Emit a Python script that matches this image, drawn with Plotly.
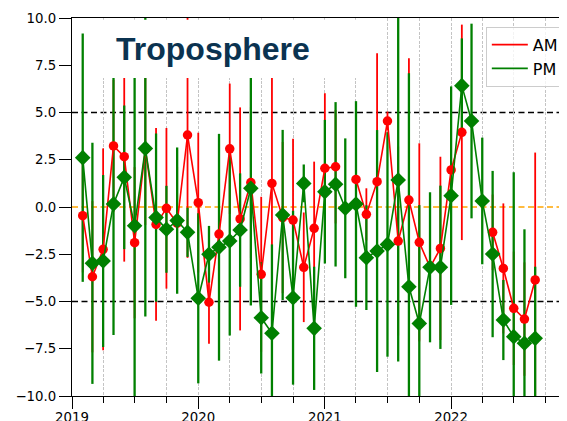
import pandas as pd
import plotly.graph_objects as go

dates = pd.date_range("2019-02-01", periods=44, freq="MS")

am_values = [-0.46, -3.69, -2.24, 3.23, 2.66, -1.89, 3.05, -0.92, -0.07, -0.86,
             3.81, 0.23, -5.04, -1.43, 3.08, -0.63, 1.29, -3.56, 1.25, -0.56,
             -0.69, -3.19, -1.13, 2.05, 2.13, None, 1.46, -0.39, 1.34, 4.55,
             -1.80, 0.37, -1.87, -3.19, -2.19, 1.96, 3.95, None, None, -1.34,
             -3.25, -5.36, -5.93, -3.86]
am_err = [3.0, 4.0, 5.34, 3.5, 5.55, 4.0, 4.0, 5.1, 4.25, 3.0,
          6.5, 3.7, 2.2, 4.0, 3.45, 5.9, 4.0, 4.1, 6.5, 4.0,
          4.3, 2.9, 3.53, 3.97, 3.0, None, 3.0, 1.38, 6.8, 0.5,
          5.0, 7.5, 5.24, 2.5, 4.85, 3.0, 5.7, None, None, 2.0,
          3.44, 3.0, 3.0, 6.74]

pm_values = [2.61, -2.98, -2.86, 0.16, 1.57, -0.99, 3.10, -0.56, -1.18, -0.72,
             -1.34, -4.83, -2.50, -2.13, -1.80, -1.22, 0.99, -5.86, -6.68, -0.42,
             -4.80, 1.25, -6.42, 0.81, 1.20, -0.07, 0.16, -2.68, -2.33, -1.98,
             1.43, -4.22, -6.16, -3.19, -3.19, 0.60, 6.42, 4.55, 0.32, -2.49,
             -5.98, -6.86, -7.21, -6.95]
pm_err = [6.57, 6.38, 4.55, 6.93, 3.8, 9.5, 8.9, 4.45, 2.3, 3.87,
          1.3, 4.5, 1.5, 6.0, 5.0, 3.0, 6.2, 2.95, 4.7, 4.5,
          4.6, 1.0, 3.26, 3.8, 4.35, 3.7, 5.44, 2.77, 6.4, 5.94,
          9.6, 11.3, 6.26, 3.97, 4.32, 5.78, 2.5, 5.15, 3.35, 4.4,
          2.12, 8.7, 6.03, 3.79]

y_ticks = [-10.0, -7.5, -5.0, -2.5, 0.0, 2.5, 5.0, 7.5, 10.0]
title_text = "Troposphere"

RED = "#ff0000"
GREEN = "#008000"

fig = go.Figure()

# error bars (drawn beneath markers)
for vals, errs, col, th in [(am_values, am_err, RED, 1.8), (pm_values, pm_err, GREEN, 2.3)]:
    fig.add_trace(go.Scatter(
        x=dates, y=vals, mode="markers",
        marker=dict(size=1, color="rgba(0,0,0,0)"),
        error_y=dict(type="data", array=errs, visible=True, color=col,
                     thickness=th, width=0),
        showlegend=False, hoverinfo="skip"))

fig.add_trace(go.Scatter(
    x=dates, y=am_values, mode="lines+markers",
    line=dict(color=RED, width=1.6),
    marker=dict(symbol="circle", size=9.5, color=RED),
    connectgaps=False, showlegend=False))
fig.add_trace(go.Scatter(
    x=dates, y=pm_values, mode="lines+markers",
    line=dict(color=GREEN, width=1.6),
    marker=dict(symbol="diamond", size=12, color=GREEN),
    connectgaps=False, showlegend=False))

# legend entries (line only)
fig.add_trace(go.Scatter(x=[None], y=[None], mode="lines",
                         line=dict(color=RED, width=1.6), name="AM"))
fig.add_trace(go.Scatter(x=[None], y=[None], mode="lines",
                         line=dict(color=GREEN, width=1.6), name="PM"))

shapes = []
for yv, col in [(5, "black"), (-5, "black"), (0, "#ffa500")]:
    shapes.append(dict(type="line", xref="paper", yref="y", x0=0, x1=1,
                       y0=yv, y1=yv, layer="below",
                       line=dict(color=col, width=1.7, dash="6px,3.5px")))
# white box behind the title
shapes.append(dict(type="rect", xref="paper", yref="paper",
                   x0=0.0424, x1=0.606, y0=0.8413, y1=0.9955,
                   fillcolor="white", line=dict(width=0), layer="above"))

fig.update_layout(
    width=559, height=413,
    margin=dict(l=64, r=0, t=10, b=25, autoexpand=False),
    paper_bgcolor="white", plot_bgcolor="white",
    font=dict(family="DejaVu Sans", size=13.3, color="black"),
    shapes=shapes,
    annotations=[dict(text="<b>" + title_text + "</b>", xref="paper", yref="paper",
                      x=0.2848, y=0.919, xanchor="center", yanchor="middle",
                      showarrow=False,
                      font=dict(family="Liberation Sans", size=32, color="#0b3350"))],
    legend=dict(x=0.836, y=0.977, xanchor="left", yanchor="top",
                bgcolor="rgba(255,255,255,0.8)", bordercolor="#cccccc",
                borderwidth=1, font=dict(family="DejaVu Sans", size=16),
                itemwidth=36, tracegroupgap=0),
    xaxis=dict(type="date", range=["2019-01-01", "2022-12-02"], automargin=False,
               tick0="2019-01-01", dtick="M12", tickformat="%Y",
               ticks="outside", ticklen=12, tickwidth=1.2, tickcolor="black",
               ticklabelstandoff=-3,
               showline=True, linecolor="black", linewidth=1.3, mirror=True,
               showgrid=True, gridcolor="#c4c4c4", gridwidth=0.8,
               griddash="3px,1.5px", zeroline=False,
               minor=dict(dtick="M3", tick0="2019-01-01", ticks="outside",
                          ticklen=5.5, tickwidth=1.2, tickcolor="black",
                          showgrid=True, gridcolor="#c4c4c4", gridwidth=0.8,
                          griddash="3px,1.5px")),
    yaxis=dict(range=[-10, 10], tickvals=y_ticks, tickformat=".1f", automargin=False,
               ticks="outside", ticklen=12, tickwidth=1.2, tickcolor="black",
               showline=True, linecolor="black", linewidth=1.3,
               showgrid=False, zeroline=False),
)

fig.write_html("out.html")
